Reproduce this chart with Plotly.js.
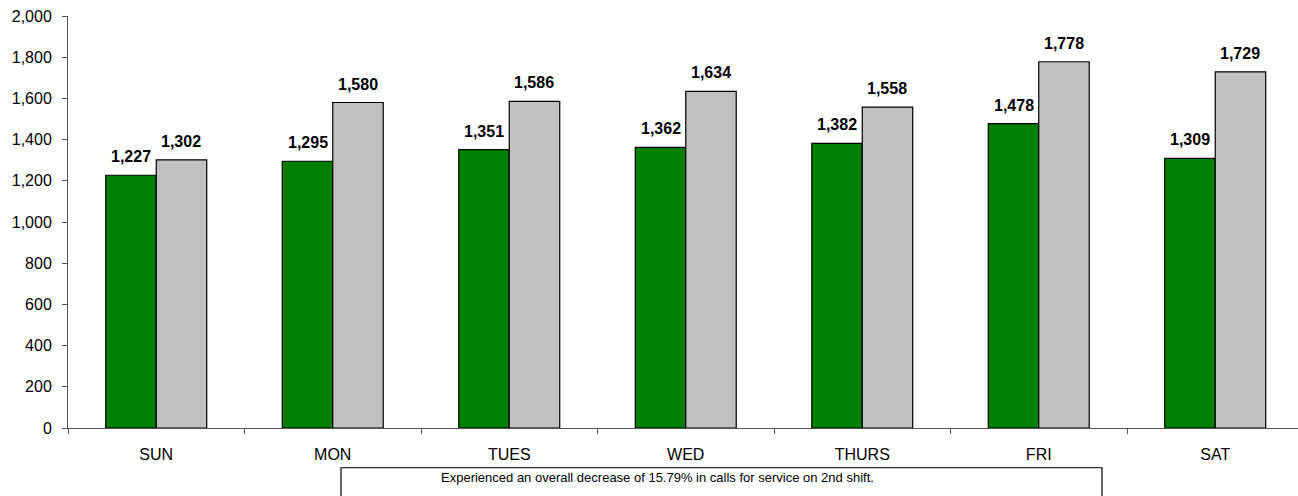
<!DOCTYPE html>
<html>
<head>
<meta charset="utf-8">
<script src="https://cdn.plot.ly/plotly-3.0.1.min.js"></script>
<style>html,body{margin:0;padding:0;background:#fff;}#chart{width:1298px;height:496px;}</style>
</head>
<body>
<div id="chart"></div>
<script>
const days = ["SUN", "MON", "TUES", "WED", "THURS", "FRI", "SAT"];
const seriesA = [1227, 1295, 1351, 1362, 1382, 1478, 1309];
const seriesB = [1302, 1580, 1586, 1634, 1558, 1778, 1729];
const yTicks = [0, 200, 400, 600, 800, 1000, 1200, 1400, 1600, 1800, 2000];
const note = "Experienced an overall decrease of 15.79% in calls for service on 2nd shift.";

const FONT = "Liberation Sans, Arial, sans-serif";
const W = 1298, H = 496, ML = 68, MR = 0, MT = 16, MB = 68;
const plotW = W - ML - MR;
const catW = 176.5;
const xEnd = -0.5 + plotW / catW;
const bargap = 0.428;
const barPx = catW * (1 - bargap) / 2;

const traces = [
  {type: "bar", x: days, y: seriesA, name: "A",
   marker: {color: "#008000", line: {color: "#000", width: 1.2}}, hoverinfo: "y"},
  {type: "bar", x: days, y: seriesB, name: "B",
   marker: {color: "#C0C0C0", line: {color: "#000", width: 1.2}}, hoverinfo: "y"}
];

const annotations = [];
[seriesA, seriesB].forEach((s, k) => {
  s.forEach((v, i) => {
    annotations.push({
      x: days[i], y: v, xref: "x", yref: "y",
      text: "<b>" + v.toLocaleString("en-US") + "</b>",
      showarrow: false, yanchor: "bottom", xanchor: "center",
      xshift: (k === 0 ? -1 : 1) * barPx / 2, yshift: 8,
      font: {family: FONT, size: 16, color: "#000"}
    });
  });
});
annotations.push({
  x: (657 - ML) / plotW, y: -0.121, xref: "paper", yref: "paper",
  text: note, showarrow: false, xanchor: "center", yanchor: "middle",
  font: {family: FONT, size: 13, color: "#000"}
});

const boundaries = days.map((d, i) => i - 0.5).concat([days.length - 0.5]);

const layout = {
  width: W, height: H,
  margin: {l: ML, r: MR, t: MT, b: MB, pad: 0},
  paper_bgcolor: "#fff", plot_bgcolor: "#fff",
  showlegend: false,
  barmode: "group", bargap: bargap, bargroupgap: 0,
  font: {family: FONT, size: 16, color: "#000"},
  xaxis: {
    type: "category", range: [-0.5, xEnd], tickson: "boundaries",
    ticks: "outside", ticklen: 5, tickcolor: "#555", tickwidth: 1,
    ticklabelstandoff: 12,
    showline: true, linecolor: "#555", linewidth: 1,
    showgrid: false, zeroline: false, fixedrange: true,
    tickfont: {family: FONT, size: 16, color: "#000"}
  },
  xaxis2: {
    overlaying: "x", anchor: "y", range: [-0.5, xEnd],
    tickvals: boundaries, ticks: "inside", ticklen: 5, tickcolor: "#555", tickwidth: 1,
    showticklabels: false, showline: false, showgrid: false, zeroline: false
  },
  yaxis: {
    range: [0, 2000], tickvals: yTicks, tickformat: ",",
    ticks: "outside", ticklen: 5, tickcolor: "#555", tickwidth: 1,
    ticklabelstandoff: 7,
    showline: true, linecolor: "#555", linewidth: 1,
    showgrid: false, zeroline: false, fixedrange: true,
    tickfont: {family: FONT, size: 16, color: "#000"}
  },
  yaxis2: {
    overlaying: "y", anchor: "x", side: "left", range: [0, 2000],
    tickvals: yTicks, ticks: "inside", ticklen: 5, tickcolor: "#555", tickwidth: 1,
    showticklabels: false, showline: false, showgrid: false, zeroline: false
  },
  shapes: [{
    type: "rect", xref: "paper", yref: "paper",
    x0: (341 - ML) / plotW, x1: (1102 - ML) / plotW,
    y0: -0.0965, y1: -0.3,
    line: {color: "#000", width: 1.2}, fillcolor: "rgba(0,0,0,0)"
  }],
  annotations: annotations
};

Plotly.newPlot("chart", traces, layout, {displayModeBar: false, staticPlot: true});
</script>
</body>
</html>
